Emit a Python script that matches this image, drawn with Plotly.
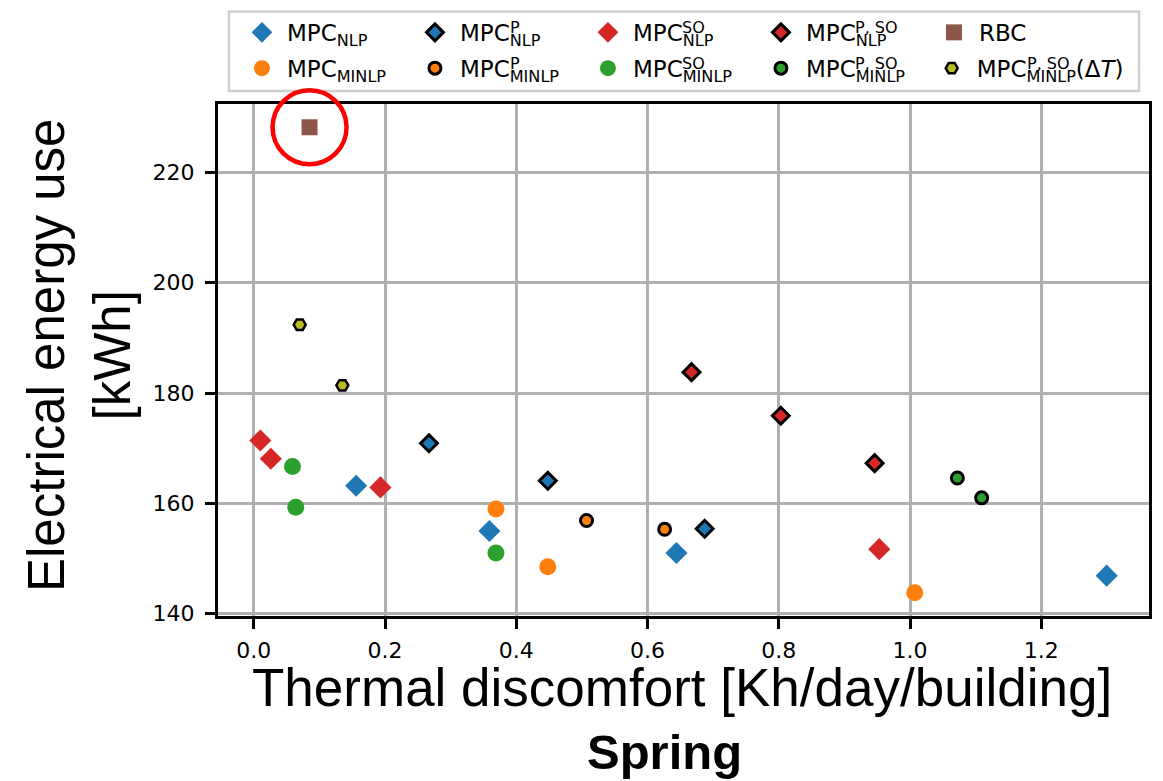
import plotly.graph_objects as go

# ---- data: thermal discomfort [Kh/day/building] vs electrical energy use [kWh]
nlp_x = [0.156, 0.359, 0.644, 1.2995]
nlp_y = [163.2, 155.0, 151.0, 146.9]
nlp_p_x = [0.267, 0.448, 0.687]
nlp_p_y = [170.9, 164.1, 155.4]
nlp_so_x = [0.010, 0.026, 0.193, 0.953]
nlp_so_y = [171.4, 168.1, 162.9, 151.7]
nlp_pso_x = [0.667, 0.803, 0.946]
nlp_pso_y = [183.8, 175.9, 167.3]
rbc_x = [0.085]
rbc_y = [228.2]
minlp_x = [0.369, 0.448, 1.007]
minlp_y = [159.0, 148.5, 143.8]
minlp_p_x = [0.507, 0.626]
minlp_p_y = [156.9, 155.3]
minlp_so_x = [0.059, 0.064, 0.369]
minlp_so_y = [166.7, 159.3, 151.0]
minlp_pso_x = [1.072, 1.109]
minlp_pso_y = [164.6, 161.0]
minlp_pso_dt_x = [0.070, 0.135]
minlp_pso_dt_y = [192.4, 181.4]

x_ticks = [0.0, 0.2, 0.4, 0.6, 0.8, 1.0, 1.2]
y_ticks = [140, 160, 180, 200, 220]

BLUE, ORANGE, GREEN, RED, BROWN, OLIVE = (
    "#1f77b4", "#ff7f0e", "#2ca02c", "#d62728", "#8c564b", "#bcbd22")

W, H = 1163, 781
L, R, T, B = 218, 11, 101, 165
PW, PH = W - L - R, H - T - B


def px(xp):
    return (xp - L) / PW


def py(yp):
    return (H - B - yp) / PH


# axis ranges with 5 % padding around the data
all_x = (nlp_x + nlp_p_x + nlp_so_x + nlp_pso_x + rbc_x + minlp_x + minlp_p_x
         + minlp_so_x + minlp_pso_x + minlp_pso_dt_x)
all_y = (nlp_y + nlp_p_y + nlp_so_y + nlp_pso_y + rbc_y + minlp_y + minlp_p_y
         + minlp_so_y + minlp_pso_y + minlp_pso_dt_y)
dx = (max(all_x) - min(all_x)) * 0.05
dy = (max(all_y) - min(all_y)) * 0.05
x_range = [min(all_x) - dx, max(all_x) + dx]
y_range = [min(all_y) - dy, max(all_y) + dy]

fig = go.Figure()

EDGE = dict(color="black", width=3)
NOEDGE = dict(width=0)


def add(x, y, name, color, symbol, size, line, legend):
    fig.add_trace(go.Scatter(
        x=x, y=y, mode="markers", name=name, legend=legend,
        marker=dict(color=color, symbol=symbol, size=size, line=line)))


# row 1 of the legend
add(nlp_x, nlp_y, "MPC<sub>NLP</sub>", BLUE, "diamond", 17, NOEDGE, "legend")
add(nlp_p_x, nlp_p_y, "MPC<sub>NLP</sub>", BLUE, "diamond", 13, EDGE, "legend")
add(nlp_so_x, nlp_so_y, "MPC<sub>NLP</sub>", RED, "diamond", 17, NOEDGE, "legend")
add(nlp_pso_x, nlp_pso_y, "MPC<sub>NLP</sub>", RED, "diamond", 13, EDGE, "legend")
add(rbc_x, rbc_y, "RBC", BROWN, "square", 16, NOEDGE, "legend")
# row 2 of the legend
add(minlp_x, minlp_y, "MPC<sub>MINLP</sub>", ORANGE, "circle", 17, NOEDGE, "legend2")
add(minlp_p_x, minlp_p_y, "MPC<sub>MINLP</sub>", ORANGE, "circle", 12, EDGE, "legend2")
add(minlp_so_x, minlp_so_y, "MPC<sub>MINLP</sub>", GREEN, "circle", 17, NOEDGE, "legend2")
add(minlp_pso_x, minlp_pso_y, "MPC<sub>MINLP</sub>", GREEN, "circle", 12, EDGE, "legend2")
add(minlp_pso_dt_x, minlp_pso_dt_y, "MPC<sub>MINLP</sub>(Δ<i>T</i>)", OLIVE,
    "hexagon2", 12, dict(color="black", width=2.5), "legend3")

# legend geometry (pixels)
LEG_X0 = 237
ENTRY_W = 173
ROW1_Y, ROW2_Y = 29, 65
TEXT_X0 = 287
LEG_FONT = 23
MPC_W = 2.164 * LEG_FONT

leg_base = dict(orientation="h", xanchor="left", yanchor="middle",
                bgcolor="rgba(0,0,0,0)", borderwidth=0, itemwidth=40,
                font=dict(family="DejaVu Sans", size=LEG_FONT, color="black"),
                tracegroupgap=0)
leg_fixed = dict(entrywidth=ENTRY_W - 55, entrywidthmode="pixels", **leg_base)

# superscripts stacked over the subscripts of the legend labels
sups = [(1, ROW1_Y, "P"), (2, ROW1_Y, "SO"), (3, ROW1_Y, "P, SO"),
        (1, ROW2_Y, "P"), (2, ROW2_Y, "SO"), (3, ROW2_Y, "P, SO"),
        (4, ROW2_Y, "P, SO")]
annotations = []
for col, ry, txt in sups:
    annotations.append(dict(
        x=px(TEXT_X0 + col * ENTRY_W + MPC_W), y=py(ry - 5),
        xref="paper", yref="paper", xanchor="left", yanchor="middle",
        text=txt, showarrow=False, borderpad=0,
        font=dict(family="DejaVu Sans", size=16, color="black")))

# axis titles
annotations.append(dict(
    x=px(79), y=py(354), xref="paper", yref="paper", textangle=-90,
    xanchor="center", yanchor="middle", showarrow=False,
    text="Electrical energy use<br>[kWh]",
    font=dict(family="Liberation Sans, Arial", size=51, color="black")))
annotations.append(dict(
    x=px(683), y=py(688), xref="paper", yref="paper",
    xanchor="center", yanchor="middle", showarrow=False,
    text="Thermal discomfort [Kh/day/building]",
    font=dict(family="Liberation Sans, Arial", size=53, color="black")))
annotations.append(dict(
    x=px(666), y=py(753), xref="paper", yref="paper",
    xanchor="center", yanchor="middle", showarrow=False,
    text="<b>Spring</b>",
    font=dict(family="Liberation Sans, Arial", size=49, color="black")))

# highlight ring around the RBC point
ring_x = (rbc_x[0] - x_range[0]) / (x_range[1] - x_range[0])
ring_y = (rbc_y[0] - y_range[0]) / (y_range[1] - y_range[0])
shapes = [
    dict(type="rect", xref="paper", yref="paper",
         x0=px(229), x1=px(1142), y0=py(88), y1=py(8),
         line=dict(color="#cfcfcf", width=2.5), fillcolor="rgba(255,255,255,0.8)",
         layer="below"),
    dict(type="circle", xref="paper", yref="paper",
         xsizemode="pixel", ysizemode="pixel", xanchor=ring_x, yanchor=ring_y,
         x0=-37, x1=37, y0=-37, y1=37,
         line=dict(color="#ff0000", width=4.5), layer="above"),
]

axis_common = dict(showgrid=True, gridcolor="#b0b0b0", gridwidth=2.5,
                   zeroline=False, showline=True, linecolor="black",
                   linewidth=3, mirror=True, ticks="outside", ticklen=10,
                   tickwidth=3, tickcolor="black",
                   tickfont=dict(family="DejaVu Sans", size=22, color="black"))

fig.update_layout(
    width=W, height=H,
    margin=dict(l=L, r=R, t=T, b=B, pad=0),
    paper_bgcolor="white", plot_bgcolor="white",
    font=dict(family="DejaVu Sans", color="black"),
    xaxis=dict(range=x_range, tickvals=x_ticks, tickformat=".1f",
               ticklabelstandoff=3, **axis_common),
    yaxis=dict(range=y_range, tickvals=y_ticks, ticklabelstandoff=6,
               **axis_common),
    legend=dict(x=px(LEG_X0), y=py(ROW1_Y), **leg_fixed),
    legend2=dict(x=px(LEG_X0), y=py(ROW2_Y), **leg_fixed),
    legend3=dict(x=px(LEG_X0 + 4 * ENTRY_W), y=py(ROW2_Y), **leg_base),
    annotations=annotations,
    shapes=shapes,
    showlegend=True,
)

fig.write_html("out.html")
